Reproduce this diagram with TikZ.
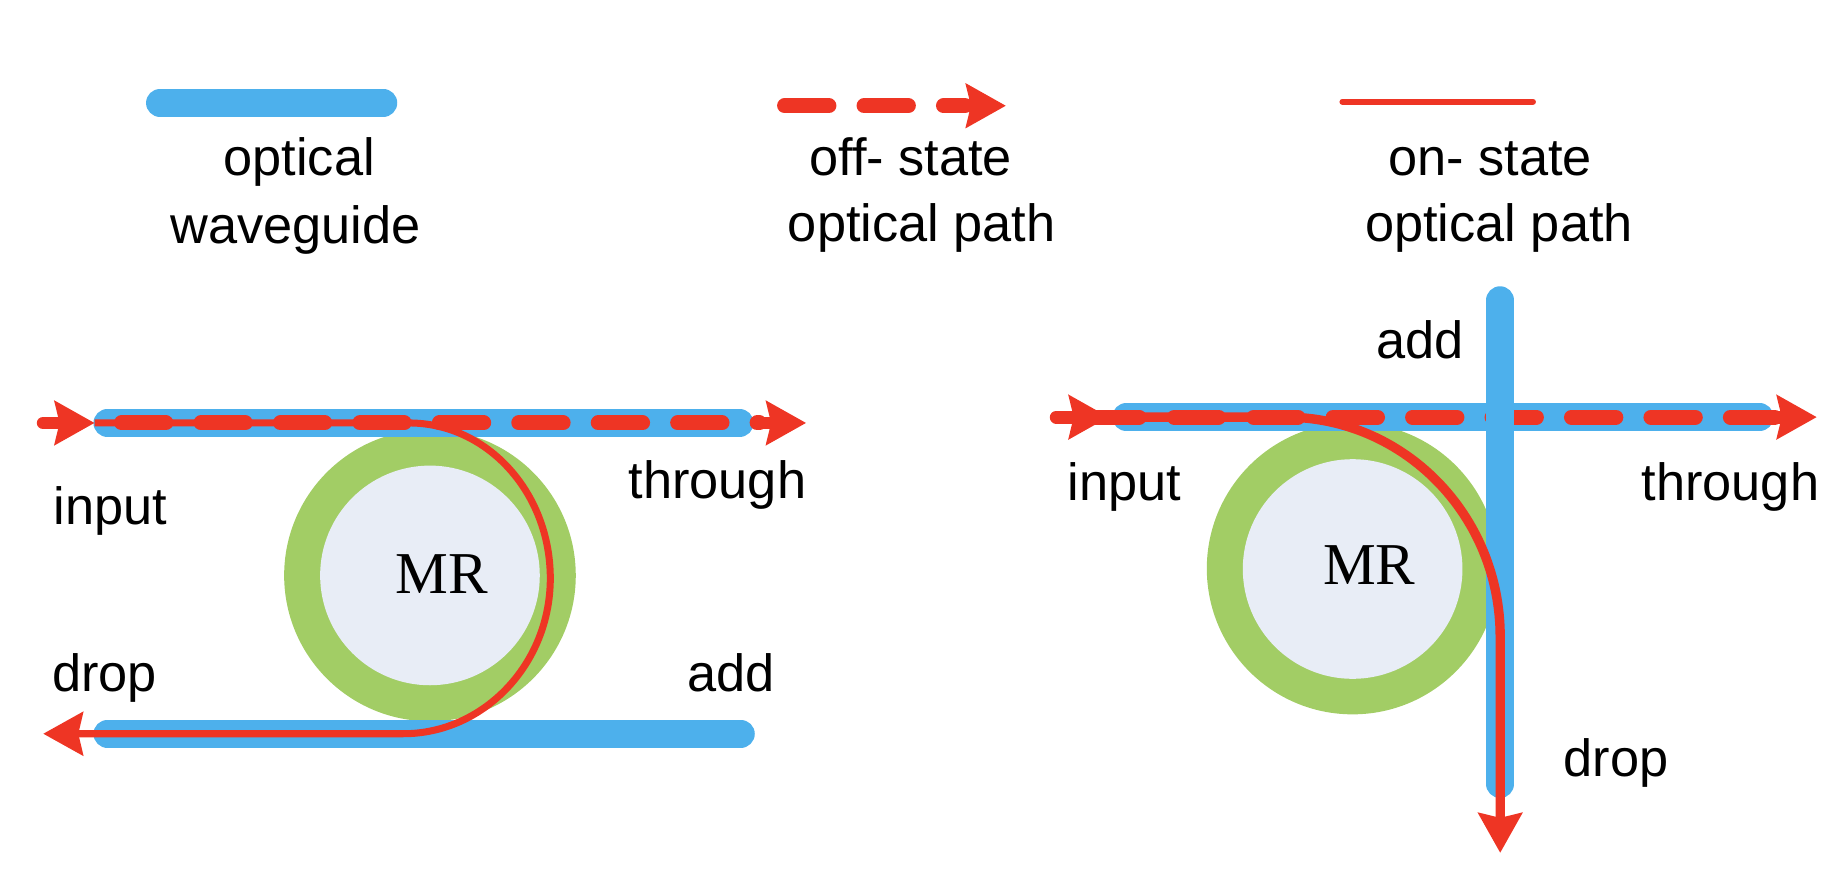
\documentclass[tikz,border=0pt]{standalone}
\usepackage{fontspec}
\setmainfont{Liberation Sans}
\newfontfamily\mrfont{Liberation Serif}
\usetikzlibrary{arrows.meta}
\definecolor{wgblue}{HTML}{4DB0EC}
\definecolor{pathred}{HTML}{EE3524}
\definecolor{ringgreen}{HTML}{A2CD65}
\definecolor{corefill}{HTML}{E8EDF6}
\tikzset{
  wg/.style={draw=wgblue,line width=12pt,line cap=round},
  offdash/.style={draw=pathred,line width=6.4pt,line cap=round,dash pattern=on 19pt off 15pt},
  stem/.style={draw=pathred,line width=5.5pt,line cap=round},
  thinpath/.style={draw=pathred,line width=3pt},
  thickpath/.style={draw=pathred,line width=4pt},
  tip/.style={-{Stealth[length=17pt,width=18.5pt,inset=2pt,fill=pathred]}},
  ringo/.style={circle,fill=ringgreen,draw=none,minimum size=124.8pt,inner sep=0pt},
  ringi/.style={circle,fill=corefill,draw=none,minimum size=94pt,inner sep=0pt},
  lbl/.style={anchor=base,font=\fontsize{22.4pt}{26pt}\selectfont,inner sep=0pt},
  mr/.style={anchor=base,font=\mrfont\fontsize{25.4pt}{30pt}\selectfont,inner sep=0pt},
}
\begin{document}
\begin{tikzpicture}[x=0.5pt,y=-0.5pt]
\useasboundingbox (0,0) rectangle (1568,749.8);
% legend
\coordinate (lw1) at (137,88); \coordinate (lw2) at (328,88);
\draw[wg] (lw1) -- (lw2);
\coordinate (ld1) at (671.5,90.5); \coordinate (ld2) at (826,90.5); \coordinate (ld3) at (861,90.5);
\draw[offdash] (ld1) -- (ld2);
\draw[stem,tip,line cap=butt] (ld2) ++(-5,0) -- (ld3);
\coordinate (ls1) at (1149,87); \coordinate (ls2) at (1312,87);
\draw[draw=pathred,line width=2.6pt,line cap=round] (ls1) -- (ls2);
\node[lbl] (t1a) at (256,150) {optical};
\node[lbl] (t1b) at (253,208) {waveguide};
\node[lbl] (t2a) at (779.5,150) {off- state};
\node[lbl] (t2b) at (789,207) {optical path};
\node[lbl] (t3a) at (1275.5,150) {on- state};
\node[lbl] (t3b) at (1283,207) {optical path};
% left device
\node[ringo] (ringL) at (368,492.5) {};
\node[ringi] (coreL) at (368,492.5) {};
\coordinate (Ltl) at (92,362); \coordinate (Ltr) at (633,362);
\coordinate (Lbl) at (92,628); \coordinate (Lbr) at (634,628);
\draw[wg] (Ltl) -- (Ltr);
\draw[wg] (Lbl) -- (Lbr);
\coordinate (Ld1) at (104,362); \coordinate (Ld2) at (650,362); \coordinate (Lthrough) at (690,362);
\draw[offdash] (Ld1) -- (Ld2);
\draw[stem,tip,line cap=butt] (Ld2) -- (Lthrough);
\coordinate (Lin0) at (37,362); \coordinate (Lin1) at (81,362);
\coordinate (Ls1) at (81,362); \coordinate (Ls2) at (350,362); \coordinate (Lr) at (471,495);
\coordinate (Ls3) at (345,628); \coordinate (Ldrop) at (37,628);
\draw[thinpath,tip] (Ls1) -- (Ls2)
  .. controls (417,362) and (471,421.5) .. (Lr)
  .. controls (471,568.5) and (414,628) .. (Ls3) -- (Ldrop);
\draw[stem,tip] (Lin0) -- (Lin1);
\node[lbl] (Ltinput) at (94.5,449) {input};
\node[lbl] (Ltthrough) at (614,427) {through};
\node[mr] (Ltmr) at (378,508) {MR};
\node[lbl] (Ltdrop) at (89.5,592) {drop};
\node[lbl] (Ltadd) at (625.5,592) {add};
% right device
\node[ringo] (ringR) at (1157.7,486.6) {};
\node[ringi] (coreR) at (1157.7,487) {};
\coordinate (Rhl) at (964,357); \coordinate (Rhr) at (1506,357);
\draw[wg] (Rhl) -- (Rhr);
\coordinate (Rd1) at (937,357); \coordinate (Rd2) at (1521,357); \coordinate (Rthrough) at (1555,357);
\draw[offdash] (Rd1) -- (Rd2);
\draw[stem,tip,line cap=butt] (Rd2) -- (Rthrough);
\coordinate (Rvt) at (1284,257); \coordinate (Rvb) at (1284,671);
\draw[wg] (Rvt) -- (Rvb);
\coordinate (Rs1) at (949,357); \coordinate (Rs2) at (1100,357); \coordinate (Rs3) at (1284,545); \coordinate (Rdrop) at (1284,730);
\draw[thickpath,tip] (Rs1) -- (Rs2)
  .. controls (1201.6,357) and (1284,441) .. (Rs3) -- (Rdrop);
\coordinate (Rin0) at (904,357); \coordinate (Rin1) at (949,357);
\draw[stem,tip] (Rin0) -- (Rin1);
\node[lbl] (Rtadd) at (1215.5,307) {add};
\node[lbl] (Rtinput) at (962.5,428) {input};
\node[lbl] (Rtthrough) at (1481,428) {through};
\node[mr] (Rtmr) at (1172,500) {MR};
\node[lbl] (Rtdrop) at (1383,665) {drop};
\end{tikzpicture}
\end{document}
